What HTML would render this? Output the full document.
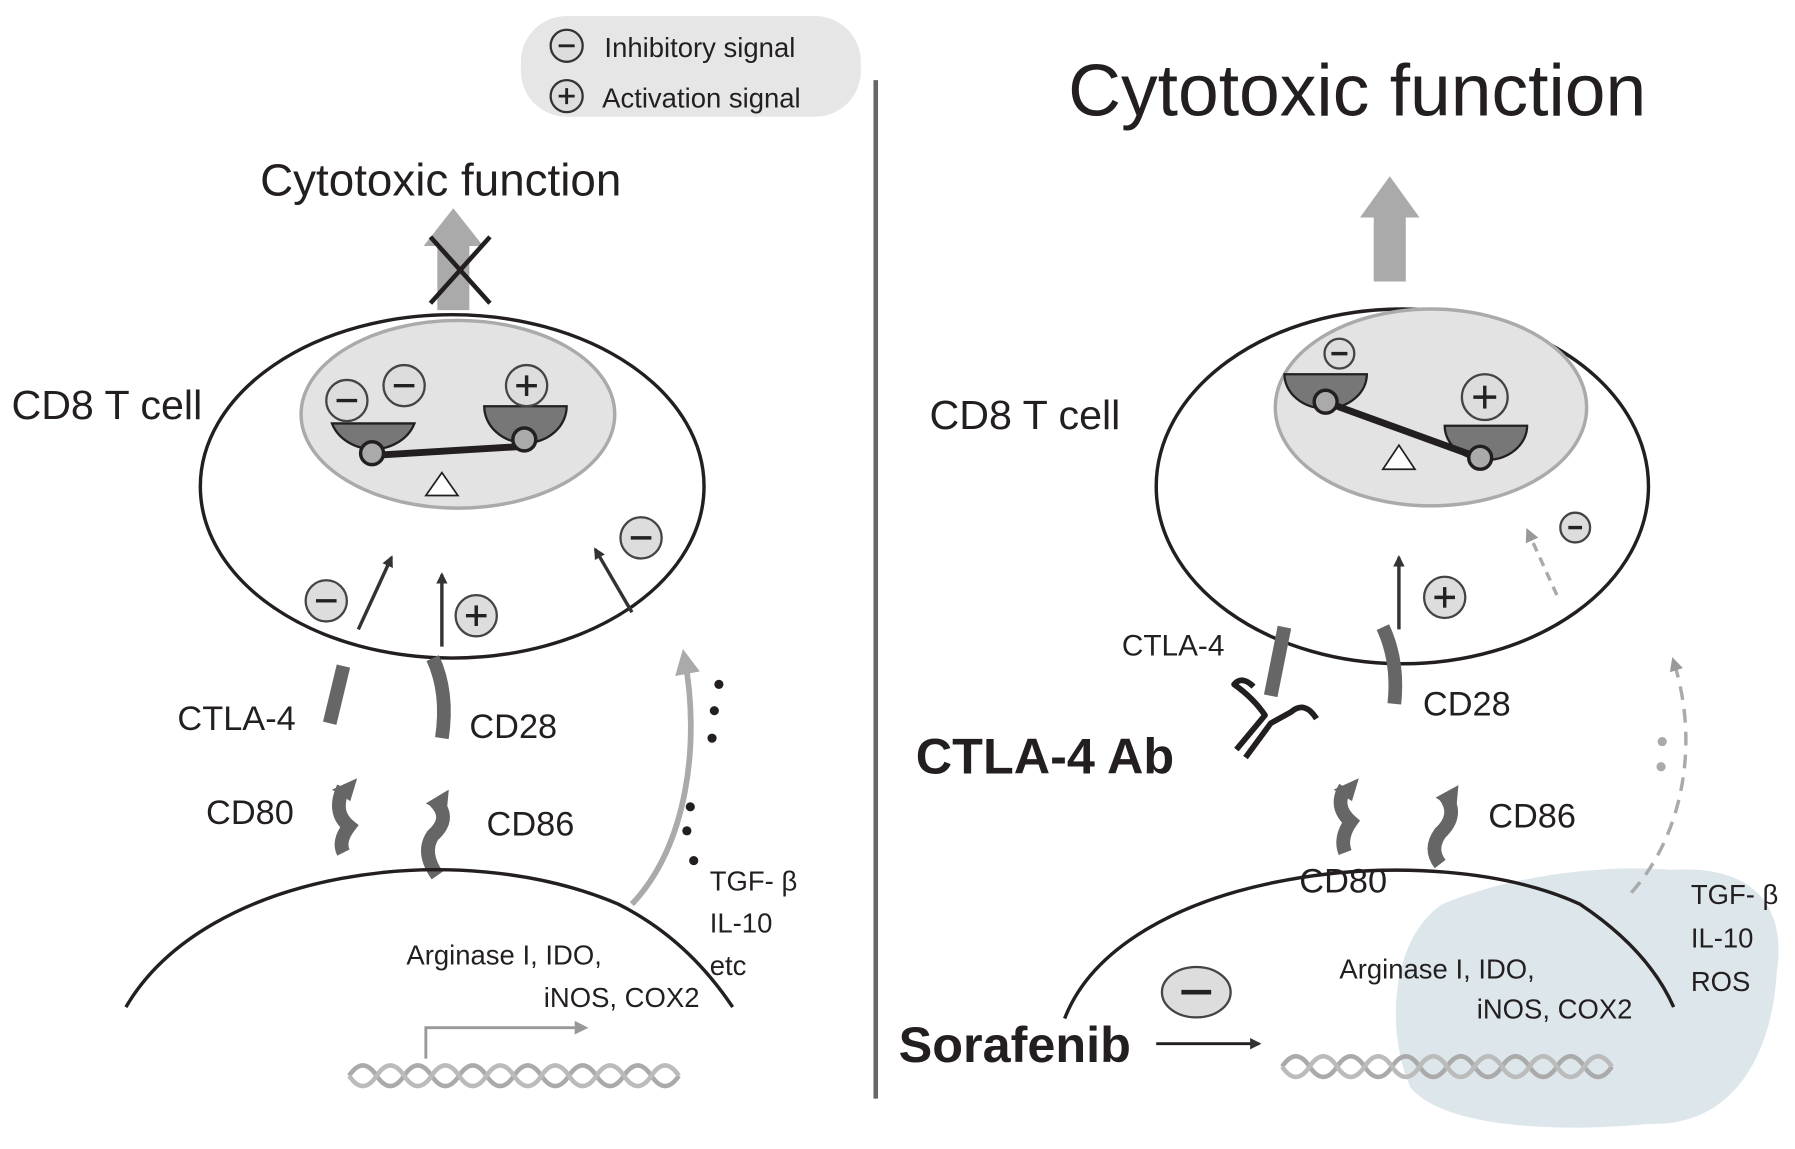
<!DOCTYPE html>
<html><head><meta charset="utf-8"><style>
html,body{margin:0;padding:0;background:#fff;}
svg{display:block;}
text{font-family:"Liberation Sans",sans-serif;fill:#231f20;}
</style></head><body>
<svg width="1795" height="1149" viewBox="0 0 1568 1004" preserveAspectRatio="none" xmlns="http://www.w3.org/2000/svg">
<defs>
<marker id="ab" markerWidth="10" markerHeight="10" refX="8" refY="5" orient="auto" markerUnits="userSpaceOnUse"><path d="M0,0 L10,5 L0,10 z" fill="#333"/></marker>
<marker id="ag" markerWidth="22" markerHeight="22" refX="14" refY="11" orient="auto" markerUnits="userSpaceOnUse"><path d="M0,0 L22,11 L0,22 z" fill="#aaa"/></marker>
<marker id="agl" markerWidth="12" markerHeight="12" refX="8" refY="6" orient="auto" markerUnits="userSpaceOnUse"><path d="M0,0 L12,6 L0,12 z" fill="#999"/></marker>
</defs>
<g id="left">
<rect x="455" y="14" width="297" height="88" rx="40" fill="#e6e6e6"/>
<circle cx="495" cy="40" r="14" fill="#ddd" stroke="#333" stroke-width="2"/><line x1="488" y1="40" x2="502" y2="40" stroke="#222" stroke-width="2.5"/>
<circle cx="495" cy="84" r="14" fill="#ddd" stroke="#333" stroke-width="2"/><line x1="488" y1="84" x2="502" y2="84" stroke="#222" stroke-width="2.5"/><line x1="495" y1="77" x2="495" y2="91" stroke="#222" stroke-width="2.5"/>
<text x="528" y="50" font-size="24">Inhibitory signal</text>
<text x="526" y="94" font-size="24">Activation signal</text>
<line x1="765" y1="70" x2="765" y2="960" stroke="#666" stroke-width="4"/>
<text x="385" y="171" font-size="40" text-anchor="middle">Cytotoxic function</text>
<rect x="382" y="213" width="28" height="58" fill="#aaa"/><polygon points="370,215 396,182 422,215" fill="#aaa"/>
<line x1="376" y1="207" x2="428" y2="265" stroke="#231f20" stroke-width="4"/><line x1="428" y1="207" x2="376" y2="265" stroke="#231f20" stroke-width="4"/>
<ellipse cx="395" cy="425" rx="220" ry="150" fill="#fff" stroke="#231f20" stroke-width="3"/>
<ellipse cx="400" cy="362" rx="137" ry="82" fill="#e3e3e3" stroke="#aaa" stroke-width="3"/>
<text x="10" y="366" font-size="36">CD8 T cell</text>
<path d="M290,370 A38,33 0 0 0 362,370 z" fill="#777" stroke="#231f20" stroke-width="2"/>
<path d="M423,355 A36,32 0 0 0 495,355 z" fill="#777" stroke="#231f20" stroke-width="2"/>
<line x1="325" y1="398" x2="458" y2="390" stroke="#231f20" stroke-width="6"/>
<circle cx="325" cy="396" r="10" fill="#aaa" stroke="#231f20" stroke-width="3"/>
<circle cx="458" cy="384" r="10" fill="#aaa" stroke="#231f20" stroke-width="3"/>
<polygon points="386,413 372,433 400,433" fill="#fff" stroke="#231f20" stroke-width="1.5"/>
<g stroke="#444" stroke-width="2" fill="#ddd"><circle cx="303" cy="350" r="18"/><circle cx="353" cy="337" r="18"/><circle cx="460" cy="337" r="18"/></g>
<g stroke="#222" stroke-width="3"><line x1="294" y1="350" x2="312" y2="350"/><line x1="344" y1="337" x2="362" y2="337"/><line x1="451" y1="337" x2="469" y2="337"/><line x1="460" y1="328" x2="460" y2="346"/></g>
<g stroke="#333" stroke-width="3" marker-end="url(#ab)"><line x1="313" y1="550" x2="342" y2="487"/><line x1="386" y1="565" x2="386" y2="502"/><line x1="552" y1="535" x2="520" y2="480"/></g>
<g stroke="#444" stroke-width="2" fill="#ddd"><circle cx="285" cy="525" r="18"/><circle cx="416" cy="538" r="18"/><circle cx="560" cy="470" r="18"/></g>
<g stroke="#222" stroke-width="3"><line x1="276" y1="525" x2="294" y2="525"/><line x1="407" y1="538" x2="425" y2="538"/><line x1="416" y1="529" x2="416" y2="547"/><line x1="551" y1="470" x2="569" y2="470"/></g>
<line x1="300" y1="582" x2="288" y2="632" stroke="#666" stroke-width="12"/>
<path d="M378,575 Q392,605 386,645" stroke="#666" stroke-width="12" fill="none"/>
<text x="155" y="638" font-size="30">CTLA-4</text><text x="410" y="645" font-size="30">CD28</text>
<path d="M300,688 Q290,710 305,722 Q295,735 300,745" stroke="#666" stroke-width="12" fill="none"/><polygon points="290,690 312,680 306,700" fill="#666"/>
<path d="M380,700 Q395,715 378,730 Q368,745 382,765" stroke="#666" stroke-width="12" fill="none"/><polygon points="372,702 392,690 390,712" fill="#666"/>
<text x="180" y="720" font-size="30">CD80</text><text x="425" y="730" font-size="30">CD86</text>
<path d="M110,880 C180,760 400,730 540,790 Q600,820 640,880" stroke="#231f20" stroke-width="3" fill="none"/>
<path d="M552,790 C600,740 612,650 598,575" stroke="#aaa" stroke-width="5" fill="none" marker-end="url(#ag)"/>
<g fill="#231f20"><circle cx="628" cy="598" r="4"/><circle cx="624" cy="621" r="4"/><circle cx="622" cy="645" r="4"/><circle cx="603" cy="705" r="4"/><circle cx="600" cy="726" r="4"/><circle cx="606" cy="752" r="4"/></g>
<text x="620" y="778" font-size="24">TGF- β</text><text x="620" y="815" font-size="24">IL-10</text><text x="620" y="852" font-size="24">etc</text>
<text x="355" y="843" font-size="24">Arginase I,  IDO,</text><text x="475" y="880" font-size="24">iNOS,  COX2</text>
<path d="M372,925 L372,898 L510,898" stroke="#999" stroke-width="2.5" fill="none" marker-end="url(#agl)"/>
<path d="M305,940 q12,-18 24,0 t24,0 t24,0 t24,0 t24,0 t24,0 t24,0 t24,0 t24,0 t24,0 t24,0 t24,0" stroke="#aaa" stroke-width="4" fill="none"/>
<path d="M305,940 q12,18 24,0 t24,0 t24,0 t24,0 t24,0 t24,0 t24,0 t24,0 t24,0 t24,0 t24,0 t24,0" stroke="#bbb" stroke-width="4" fill="none"/>
</g>
<g id="right">
<path d="M1260,790 C1320,765 1400,755 1460,760 C1540,755 1560,800 1552,850 C1548,920 1515,985 1440,982 C1360,990 1260,985 1232,950 C1210,900 1215,820 1260,790 z" fill="#dce6eb"/>
<text x="933" y="101" font-size="64">Cytotoxic function</text>
<rect x="1200" y="188" width="28" height="58" fill="#aaa"/><polygon points="1188,190 1214,154 1240,190" fill="#aaa"/>
<ellipse cx="1225" cy="425" rx="215" ry="155" fill="#fff" stroke="#231f20" stroke-width="3"/>
<ellipse cx="1250" cy="356" rx="136" ry="86" fill="#e3e3e3" stroke="#aaa" stroke-width="3"/>
<text x="812" y="375" font-size="36">CD8 T cell</text>
<path d="M1122,327 A36,30 0 0 0 1194,327 z" fill="#777" stroke="#231f20" stroke-width="2"/>
<path d="M1262,372 A36,30 0 0 0 1334,372 z" fill="#777" stroke="#231f20" stroke-width="2"/>
<line x1="1160" y1="352" x2="1292" y2="400" stroke="#231f20" stroke-width="6"/>
<circle cx="1158" cy="351" r="10" fill="#aaa" stroke="#231f20" stroke-width="3"/>
<circle cx="1293" cy="400" r="10" fill="#aaa" stroke="#231f20" stroke-width="3"/>
<polygon points="1222,389 1208,410 1236,410" fill="#fff" stroke="#231f20" stroke-width="1.5"/>
<g stroke="#444" stroke-width="2" fill="#ddd"><circle cx="1170" cy="309" r="13"/><circle cx="1297" cy="347" r="20"/><circle cx="1262" cy="522" r="18"/><circle cx="1376" cy="461" r="13"/></g>
<g stroke="#222" stroke-width="3"><line x1="1163" y1="309" x2="1177" y2="309"/><line x1="1287" y1="347" x2="1307" y2="347"/><line x1="1297" y1="337" x2="1297" y2="357"/><line x1="1253" y1="522" x2="1271" y2="522"/><line x1="1262" y1="513" x2="1262" y2="531"/><line x1="1370" y1="461" x2="1382" y2="461"/></g>
<line x1="1222" y1="550" x2="1222" y2="487" stroke="#333" stroke-width="3" marker-end="url(#ab)"/>
<line x1="1360" y1="520" x2="1335" y2="465" stroke="#aaa" stroke-width="3" stroke-dasharray="8,6" marker-end="url(#agl)"/>
<text x="980" y="573" font-size="26" fill="#444">CTLA-4</text>
<line x1="1122" y1="548" x2="1110" y2="608" stroke="#666" stroke-width="12"/>
<path d="M1208,548 Q1222,578 1218,615" stroke="#666" stroke-width="12" fill="none"/>
<text x="1243" y="625" font-size="30">CD28</text>
<g stroke="#231f20" stroke-width="5" fill="none" stroke-linejoin="round">
<path d="M1095,600 Q1085,590 1078,598 Q1095,610 1105,625 L1080,655"/>
<path d="M1150,628 Q1140,612 1128,622 L1110,632 L1088,662"/></g>
<text x="800" y="676" font-size="44" font-weight="bold">CTLA-4 Ab</text>
<path d="M1175,688 Q1165,705 1180,718 Q1170,732 1175,745" stroke="#666" stroke-width="12" fill="none"/><polygon points="1165,690 1187,680 1181,700" fill="#666"/>
<path d="M1262,695 Q1275,712 1258,728 Q1248,742 1258,755" stroke="#666" stroke-width="12" fill="none"/><polygon points="1254,697 1274,686 1272,708" fill="#666"/>
<text x="1135" y="780" font-size="30">CD80</text><text x="1300" y="723" font-size="30">CD86</text>
<path d="M930,890 C980,760 1250,730 1380,790 Q1440,830 1462,880" stroke="#231f20" stroke-width="3" fill="none"/>
<path d="M1425,780 C1470,730 1485,650 1462,578" stroke="#aaa" stroke-width="3" stroke-dasharray="12,8" fill="none" marker-end="url(#agl)"/>
<g fill="#aaa"><circle cx="1452" cy="648" r="4"/><circle cx="1451" cy="670" r="4"/></g>
<text x="1477" y="790" font-size="24">TGF- β</text><text x="1477" y="828" font-size="24">IL-10</text><text x="1477" y="866" font-size="24">ROS</text>
<text x="1170" y="855" font-size="24">Arginase I,  IDO,</text><text x="1290" y="890" font-size="24">iNOS,  COX2</text>
<text x="785" y="928" font-size="44" font-weight="bold">Sorafenib</text>
<line x1="1010" y1="912" x2="1100" y2="912" stroke="#231f20" stroke-width="2.5" marker-end="url(#ab)"/>
<ellipse cx="1045" cy="867" rx="30" ry="22" fill="#ddd" stroke="#444" stroke-width="2"/><line x1="1032" y1="867" x2="1058" y2="867" stroke="#222" stroke-width="4"/>
<path d="M1120,932 q12,-18 24,0 t24,0 t24,0 t24,0 t24,0 t24,0 t24,0 t24,0 t24,0 t24,0 t24,0 t24,0" stroke="#aaa" stroke-width="4" fill="none"/>
<path d="M1120,932 q12,18 24,0 t24,0 t24,0 t24,0 t24,0 t24,0 t24,0 t24,0 t24,0 t24,0 t24,0 t24,0" stroke="#bbb" stroke-width="4" fill="none"/>
</g>
</svg>
</body></html>
